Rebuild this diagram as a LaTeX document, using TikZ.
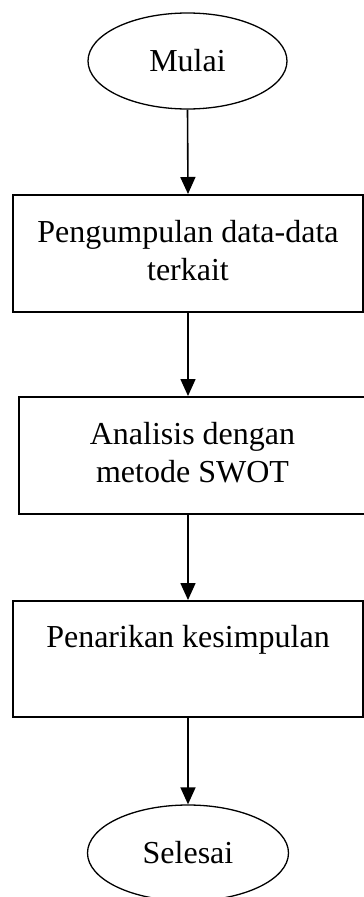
\documentclass[tikz,border=0pt]{standalone}
\usepackage{fontspec}
\setmainfont{Liberation Serif}
\usetikzlibrary{shapes.geometric,arrows.meta}
\newcommand{\boxtext}[1]{\raisebox{5pt}{\begin{tabular}{@{}c@{}}#1\end{tabular}}}
\begin{document}
\begin{tikzpicture}[x=1pt,y=1pt,
  every node/.style={font=\fontsize{32}{38}\selectfont},
  term/.style={ellipse,draw,line width=1.3pt,minimum width=199pt,minimum height=96pt,inner sep=0pt},
  procbox/.style={rectangle,draw,line width=2pt,align=center,inner sep=0pt},
  arr/.style={line width=1.6pt,-{Triangle[width=15pt,length=17pt]}}]
\useasboundingbox (0,0) rectangle (364,-897);
\node[term] (mulai) at (187.5,-61) {Mulai};
\node[procbox,minimum width=350pt,minimum height=117pt] (b1) at (188,-253.5) {\boxtext{Pengumpulan data-data\\terkait}};
\node[procbox,minimum width=347pt,minimum height=117pt] (b2) at (192.5,-455.5) {\boxtext{Analisis dengan\\metode SWOT}};
\node[procbox,minimum width=350pt,minimum height=116pt] (b3) at (188,-659) {\boxtext{Penarikan kesimpulan\\\mbox{}}};
\node[term,minimum width=201pt] (selesai) at (188,-853) {Selesai};
\draw[arr] (mulai.south) -- (b1.north);
\draw[arr] (b1.south) -- (b1.south |- b2.north);
\draw[arr] (b1.south |- b2.south) -- (b3.north);
\draw[arr] (b3.south) -- (selesai.north);
\end{tikzpicture}
\end{document}
